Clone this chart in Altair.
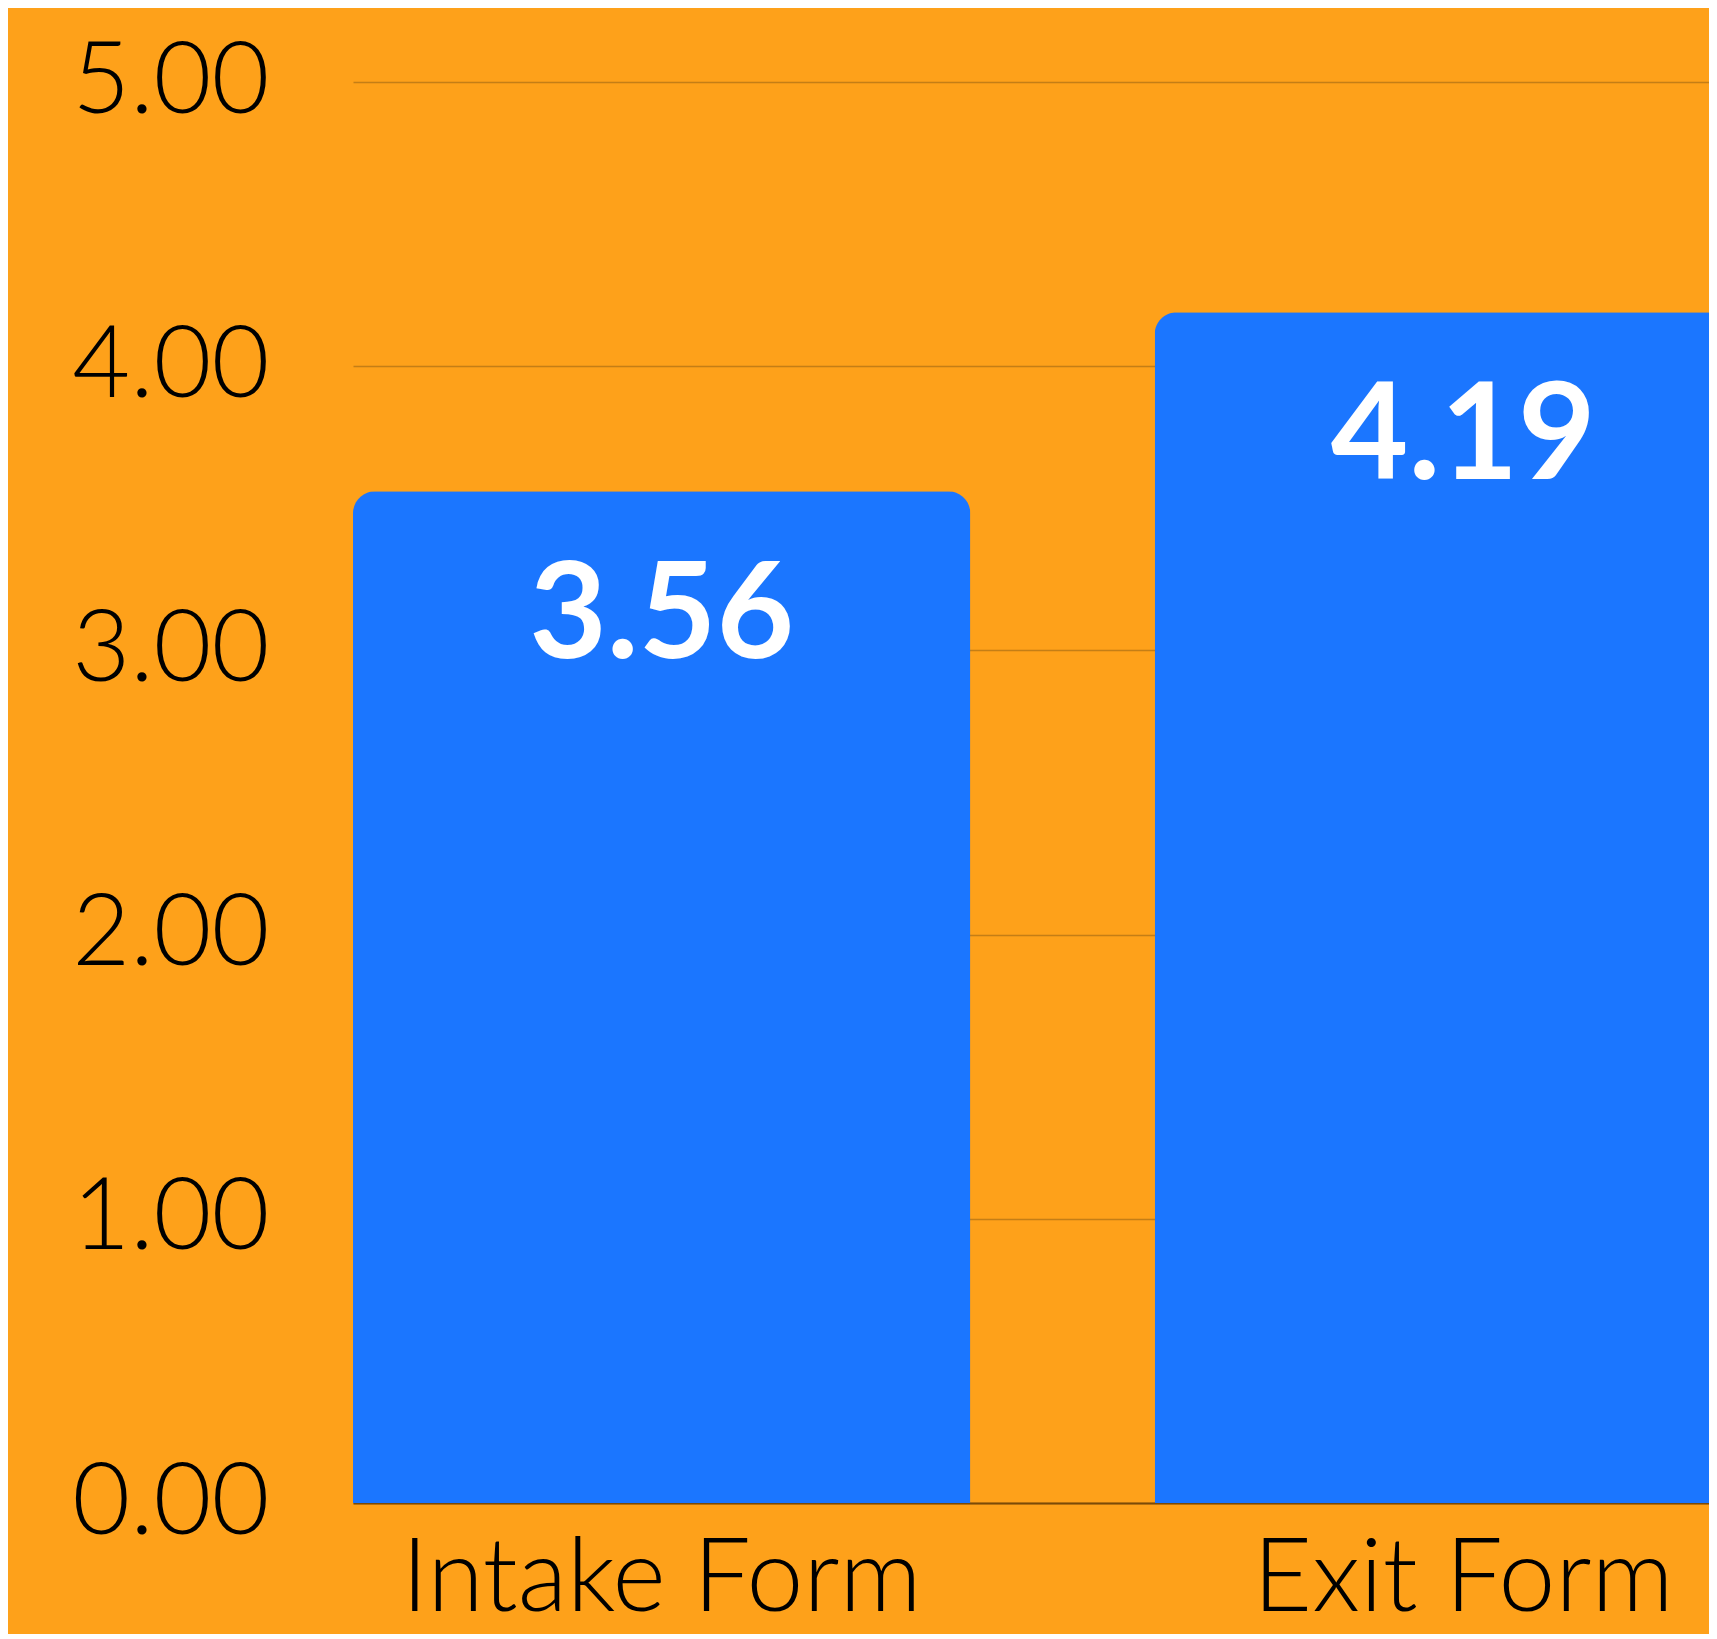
import altair as alt
import pandas as pd

categories = ["Intake Form", "Exit Form"]
values = [3.56, 4.19]
y_ticks = [0, 1, 2, 3, 4, 5]

df = pd.DataFrame({"form": categories, "score": values})

BG = "#FEA11A"
BAR = "#1B76FF"

x_enc = alt.X(
    "form:N",
    sort=categories,
    title=None,
    scale=alt.Scale(range=[0, 1419], paddingInner=0.23, paddingOuter=0),
    axis=alt.Axis(
        labelAngle=0,
        labelFont="Lato",
        labelFontWeight=300,
        labelFontSize=102,
        labelColor="#000000",
        labelPadding=26,
        labelBaseline="top",
        labelLimit=0,
        ticks=False,
        domain=True,
        domainColor="#7A4A08",
        domainWidth=2,
        grid=False,
    ),
)

y_scale = alt.Scale(domain=[0, 5], nice=False)

bars = alt.Chart(df).mark_bar(
    color=BAR,
    cornerRadiusTopLeft=22,
    cornerRadiusTopRight=22,
).encode(
    x=x_enc,
    y=alt.Y(
        "score:Q",
        scale=y_scale,
        title=None,
        axis=alt.Axis(
            values=y_ticks,
            format=".2f",
            labelFont="Lato",
            labelFontWeight=300,
            labelFontSize=100,
            labelColor="#000000",
            labelPadding=84,
            labelLimit=0,
            ticks=False,
            domain=False,
            grid=True,
            gridColor="#C47E16",
            gridWidth=1.5,
        ),
    ),
)

text = alt.Chart(df).mark_text(
    color="white",
    font="Lato",
    fontWeight="bold",
    fontSize=134,
    baseline="alphabetic",
    align="center",
    dy=167,
).encode(
    x=alt.X("form:N", sort=categories),
    y=alt.Y("score:Q", scale=y_scale),
    text=alt.Text("score:Q", format=".2f"),
)

chart = (
    alt.layer(bars, text)
    .properties(
        width=1356,
        height=1421,
        background=BG,
        padding={"left": 345, "top": 74, "right": 0, "bottom": 131},
        autosize=alt.AutoSizeParams(type="none"),
    )
    .configure_view(stroke=None)
)

chart.save("out.html", embed_options={"renderer": "svg", "actions": False})
